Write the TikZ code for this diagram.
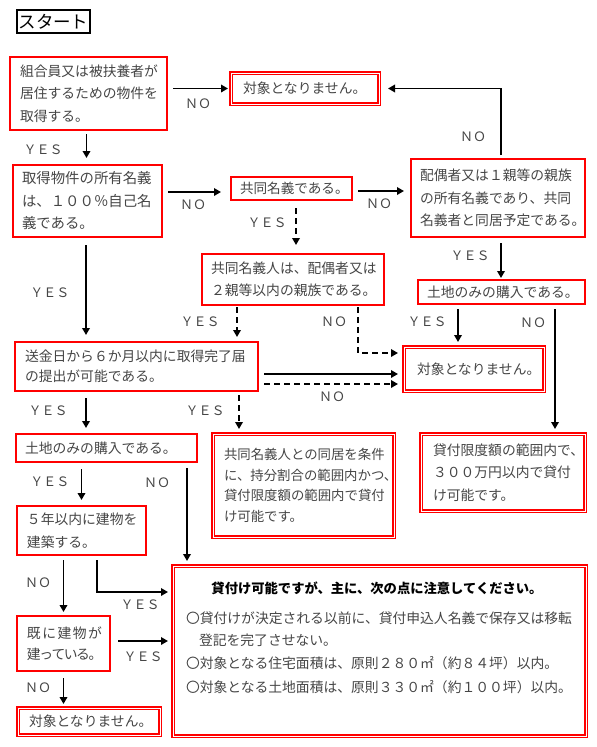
\documentclass[tikz,border=0pt]{standalone}
\usepackage{fontspec}
\setmainfont{Noto Sans CJK JP}
\usetikzlibrary{arrows.meta}
\definecolor{txt}{HTML}{454545}
\definecolor{bred}{HTML}{FF0000}
\begin{document}
\begin{tikzpicture}[x=1pt,y=-1pt,
  every node/.style={inner sep=0pt,outer sep=0pt},
  tbox/.style={draw=bred,line width=1.2pt,anchor=north west,align=left,text=txt,
    inner ysep=0pt,font=\fontsize{13.8}{22.5}\selectfont},
  dbox/.style={tbox,line width=1.6pt,double=white,double distance=1pt},
  lbl/.style={text=txt,font=\fontsize{13}{13}\selectfont},
  arr/.style={line width=1.8pt,-{Triangle[length=7pt,width=7.5pt]}},
  darr/.style={arr,dash pattern=on 6pt off 4pt},
  bline/.style={anchor=west,text=txt,font=\fontsize{13.8}{16}\selectfont},
]
\useasboundingbox (0,0) rectangle (597,747);

% start
\node[draw=black,line width=1.3pt,anchor=north west,inner xsep=1.5pt,minimum height=23pt,
  font=\fontsize{17.5}{18}\selectfont] (start) at (17,10) {スタート};

% boxes
\node[tbox,minimum width=157pt,minimum height=73pt,text width=137pt,inner xsep=10pt] (A) at (10,57)
  {組合員又は被扶養者が\\居住するための物件を\\取得する。};
\node[dbox,minimum width=148pt,minimum height=31pt,text width=124pt,inner xsep=12pt] (T1) at (231,73)
  {対象となりません。};
\node[tbox,minimum width=149pt,minimum height=72pt,text width=131pt,inner xsep=9pt,
  font=\fontsize{14.4}{22.5}\selectfont] (B) at (13,165)
  {取得物件の所有名義\\は、１００％自己名\\義である。};
\node[tbox,minimum width=121pt,minimum height=23pt,text width=103pt,inner xsep=9pt,
  font=\fontsize{13.6}{22.5}\selectfont] (C) at (231,177)
  {共同名義である。};
\node[tbox,minimum width=174pt,minimum height=78pt,text width=156pt,inner xsep=9pt] (R1) at (411,159)
  {配偶者又は１親等の親族\\の所有名義であり、共同\\名義者と同居予定である。};
\node[tbox,minimum width=167pt,minimum height=24pt,text width=149pt,inner xsep=9pt] (R2) at (418,280)
  {土地のみの購入である。};
\node[tbox,minimum width=182pt,minimum height=51pt,text width=164pt,inner xsep=9pt] (D) at (202,254)
  {共同名義人は、配偶者又は\\２親等以内の親族である。};
\node[dbox,minimum width=140pt,minimum height=44pt,text width=114pt,inner xsep=13pt] (T2) at (404,347)
  {対象となりません。};
\node[tbox,minimum width=243pt,minimum height=49pt,text width=223pt,inner xsep=10pt,
  font=\fontsize{13.8}{20}\selectfont] (E) at (15,342)
  {送金日から６か月以内に取得完了届\\の提出が可能である。};
\node[dbox,minimum width=164pt,minimum height=77pt,text width=140pt,inner xsep=12pt] (R3) at (421,434)
  {貸付限度額の範囲内で、\\３００万円以内で貸付\\け可能です。};
\node[dbox,minimum width=181pt,minimum height=103pt,text width=159pt,inner xsep=11pt,
  font=\fontsize{13.4}{20.5}\selectfont] (F) at (213,434)
  {共同名義人との同居を条件\\に、持分割合の範囲内かつ、\\貸付限度額の範囲内で貸付\\け可能です。};
\node[tbox,minimum width=181pt,minimum height=28pt,text width=163pt,inner xsep=9pt] (G) at (16,434)
  {土地のみの購入である。};
\node[tbox,minimum width=129pt,minimum height=49pt,text width=109pt,inner xsep=10pt] (H) at (17,506)
  {５年以内に建物を\\建築する。};
\node[tbox,minimum width=93pt,minimum height=55pt,text width=73pt,inner xsep=10pt,
  font=\fontsize{13.8}{21}\selectfont] (I) at (17,616)
  {既\kern1.5pt に\kern1.5pt 建\kern1.5pt 物\kern1.5pt が\\建\kern-1.5pt っ\kern-1.5pt て\kern-1.5pt い\kern-1.5pt る\kern-1.5pt 。};
\node[dbox,minimum width=142pt,minimum height=27pt,text width=120pt,inner xsep=11pt] (T3) at (18,708)
  {対象となりません。};
\node[dbox,minimum width=413pt,minimum height=170pt] (Big) at (173,566) {};

% big box text
\node[font=\bfseries\fontsize{13.3}{16}\selectfont,text=black] (bt) at (377,588)
  {貸付け可能ですが、主に、次の点に注意してください。};
\node[bline] (b1) at (186,618) {〇貸付けが決定される以前に、貸付申込人名義で保存又は移転};
\node[bline] (b2) at (199,640) {登記を完了させない。};
\node[bline] (b3) at (186,663) {〇対象となる住宅面積は、原則２８０㎡（約８４坪）以内。};
\node[bline] (b4) at (186,687) {〇対象となる土地面積は、原則３３０㎡（約１００坪）以内。};

% connectors
\draw[arr,shorten <=6pt,shorten >=3pt] (A.east |- T1.west) -- (T1.west);
\draw[arr,shorten <=4pt,shorten >=9pt] ([xshift=3pt]R1.north) -- ([xshift=3pt]R1.north |- T1.east) -- (T1.east);
\draw[arr,shorten <=4pt,shorten >=7pt] ([xshift=-2pt]A.south) -- ([xshift=-2pt]A.south |- B.north);
\draw[arr,shorten <=6pt,shorten >=10pt] ([yshift=-3.5pt]C.west -| B.east) -- ([yshift=-3.5pt]C.west);
\draw[arr,shorten <=6pt,shorten >=7pt] ([yshift=-2.5pt]C.east) -- ([yshift=-2.5pt]C.east -| R1.west);
\draw[arr,shorten <=6pt,shorten >=2pt] ([xshift=3pt]R1.south) -- ([xshift=3pt]R1.south |- R2.north);
\draw[darr,shorten <=8pt,shorten >=9pt] ([xshift=4.5pt]C.south) -- ([xshift=4.5pt]C.south |- D.north);
\draw[darr,shorten <=2pt,shorten >=5pt] ([xshift=-56pt]D.south) -- ([xshift=-56pt]D.south |- E.north);
\draw[darr,shorten <=2pt,shorten >=6pt] ([xshift=65pt]D.south) |- ([yshift=16pt]T2.west);
\draw[arr,shorten <=6pt,shorten >=6pt] ([yshift=-5pt]T2.west -| E.east) -- ([yshift=-5pt]T2.west);
\draw[darr,shorten <=6pt,shorten >=6pt] ([yshift=-15pt]T2.west -| E.east) -- ([yshift=-15pt]T2.west);
\draw[arr,shorten <=8pt,shorten >=7pt] ([xshift=-1.5pt]B.south) -- ([xshift=-1.5pt]B.south |- E.north);
\draw[arr,shorten <=5pt,shorten >=5pt] ([xshift=-43.5pt]R2.south) -- ([xshift=-43.5pt]R2.south |- T2.north);
\draw[arr,shorten <=5pt,shorten >=5pt] ([xshift=53.5pt]R2.south) -- ([xshift=53.5pt]R2.south |- R3.north);
\draw[darr,shorten <=4pt,shorten >=5pt] ([xshift=-19pt]E.south east) -- ([xshift=-19pt]E.south east |- F.north);
\draw[arr,shorten <=7pt,shorten >=6pt] ([xshift=-50.5pt]E.south) -- ([xshift=-50.5pt]E.south |- G.north);
\draw[arr,shorten <=7pt,shorten >=6pt] (H.north |- G.south) -- (H.north);
\draw[arr,shorten <=6pt,shorten >=5pt] ([xshift=-10pt]G.south east) -- ([xshift=-10pt]G.south east |- Big.north);
\draw[arr,shorten <=5pt,shorten >=5pt] ([xshift=15.5pt]H.south) |- ([yshift=59pt]Big.west);
\draw[arr,shorten <=5pt,shorten >=4pt] (I.north |- H.south) -- (I.north);
\draw[arr,shorten <=8pt,shorten >=5pt] ([yshift=2.5pt]I.east) -- ([yshift=2.5pt]I.east -| Big.west);
\draw[arr,shorten <=7pt,shorten >=4pt] (I.south) -- (I.south |- T3.north);

% labels
\node[lbl] (n1) at (198,104) {ＮＯ};
\node[lbl] (n2) at (473,137) {ＮＯ};
\node[lbl] (y1) at (43,150) {ＹＥＳ};
\node[lbl] (n3) at (193,205) {ＮＯ};
\node[lbl] (n4) at (379,204) {ＮＯ};
\node[lbl] (y2) at (470,256) {ＹＥＳ};
\node[lbl] (y3) at (267,223) {ＹＥＳ};
\node[lbl] (y4) at (200,322) {ＹＥＳ};
\node[lbl] (n5) at (334,322) {ＮＯ};
\node[lbl] (y5) at (50,293) {ＹＥＳ};
\node[lbl] (n6) at (332,397) {ＮＯ};
\node[lbl] (y6) at (427,322) {ＹＥＳ};
\node[lbl] (n7) at (533,323) {ＮＯ};
\node[lbl] (y7) at (205,411) {ＹＥＳ};
\node[lbl] (y8) at (48,411) {ＹＥＳ};
\node[lbl] (y9) at (50,482) {ＹＥＳ};
\node[lbl] (n8) at (157,483) {ＮＯ};
\node[lbl] (y10) at (140,605) {ＹＥＳ};
\node[lbl] (n9) at (38,583) {ＮＯ};
\node[lbl] (y11) at (143,657) {ＹＥＳ};
\node[lbl] (n10) at (38,688) {ＮＯ};
\end{tikzpicture}
\end{document}
